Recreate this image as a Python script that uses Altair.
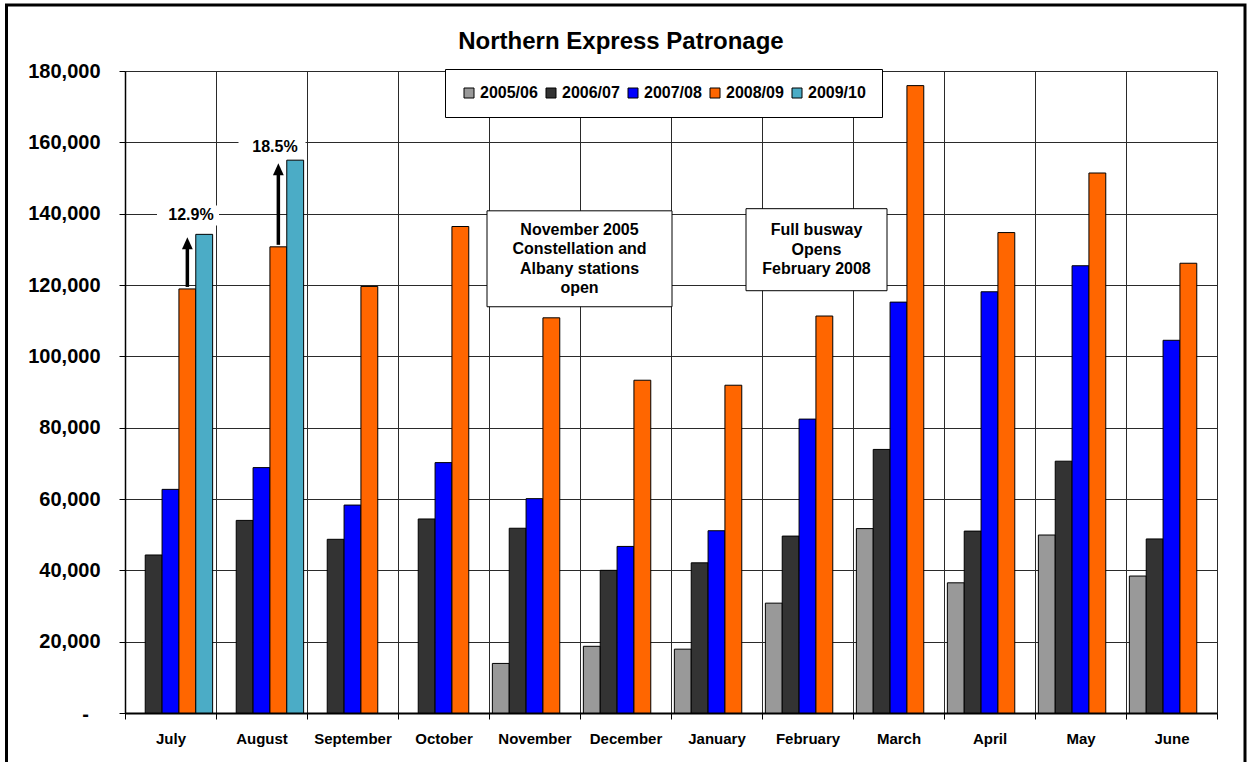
import altair as alt
import pandas as pd

FONT = "Liberation Sans"

months = ["July", "August", "September", "October", "November", "December",
          "January", "February", "March", "April", "May", "June"]
seasons = ["2005/06", "2006/07", "2007/08", "2008/09", "2009/10"]
colors = ["#999999", "#333333", "#0000FF", "#FF6600", "#4BACC6"]

v0506 = [None, None, None, None, 13900, 18700, 17900, 30800, 51700, 36500, 49900, 38400]
v0607 = [44300, 54000, 48700, 54400, 51800, 40000, 42100, 49600, 73900, 51000, 70600, 48800]
v0708 = [62700, 68800, 58300, 70200, 60100, 46700, 51100, 82400, 115200, 118100, 125400, 104500]
v0809 = [118900, 130700, 119600, 136400, 110800, 93300, 91900, 111300, 175900, 134700, 151400, 126100]
v0910 = [134200, 155000, None, None, None, None, None, None, None, None, None, None]

series = [v0506, v0607, v0708, v0809, v0910]
rows = []
for s, vals in zip(seasons, series):
    for m, v in zip(months, vals):
        if v is not None:
            rows.append({"month": m, "season": s, "value": v})
df = pd.DataFrame(rows)

chart_title = "Northern Express Patronage"
zero_label = "-"

# growth arrows (2008/09 -> 2009/10)
arrow_months = ["July", "August"]
arrow_from = [118900, 130700]
arrow_to = [134200, 155000]
arrow_text = ["12.9%", "18.5%"]
arrow_label_y = [139500, 158700]
arrow_label_dx = [20.5, 13.5]
arrow_label_w = [62, 67]

# annotation boxes
note1_lines = ["November 2005", "Constellation and", "Albany stations", "open"]
note2_lines = ["Full busway", "Opens", "February 2008"]

W, H = 1092, 642
LH = 19.5

xscale = alt.Scale(domain=months, paddingInner=0, paddingOuter=0)
xoff_scale = alt.Scale(domain=seasons, paddingInner=0, paddingOuter=0.2)
yscale = alt.Scale(domain=[0, 180000], nice=False, zero=True)

x_axis = alt.Axis(title=None, tickBand="extent", labelAngle=0, labelFont=FONT,
                  labelFontSize=15, labelFontWeight="bold", labelColor="black",
                  labelPadding=12, tickSize=6, tickColor="black", domainColor="black",
                  domainWidth=2, grid=True, gridColor="#2a2a2a", gridWidth=1)
y_axis = alt.Axis(title=None, values=list(range(0, 180001, 20000)),
                  labelExpr="datum.value == 0 ? '' : format(datum.value, ',')",
                  labelFont=FONT, labelFontSize=20, labelFontWeight="bold",
                  labelColor="black", labelPadding=19, tickSize=6, tickColor="black",
                  domainColor="black", domainWidth=1.5, grid=True, gridColor="#2a2a2a",
                  gridWidth=1)

bars = alt.Chart(df).mark_bar(stroke="black", strokeWidth=1).encode(
    x=alt.X("month:N", scale=xscale, sort=months, axis=x_axis),
    xOffset=alt.XOffset("season:N", scale=xoff_scale, sort=seasons),
    y=alt.Y("value:Q", scale=yscale, axis=y_axis),
    color=alt.Color("season:N", scale=alt.Scale(domain=seasons, range=colors),
                    legend=alt.Legend(title=None, orient="none", legendX=320, legendY=-2,
                                      direction="horizontal", fillColor="white",
                                      strokeColor="black", padding=16,
                                      symbolType="square", symbolSize=100,
                                      symbolStrokeColor="black", symbolStrokeWidth=1,
                                      labelFont=FONT, labelFontSize=16,
                                      labelFontWeight="bold", labelColor="black",
                                      columnPadding=5, labelOffset=3)),
)

adf = pd.DataFrame({"month": arrow_months, "season": ["2008/09"] * 2,
                    "from": arrow_from, "to": arrow_to})

shafts = alt.Chart(adf).mark_rule(color="black", strokeWidth=3.5, yOffset=-2, y2Offset=14).encode(
    x=alt.X("month:N", scale=xscale, sort=months),
    xOffset=alt.XOffset("season:N", scale=xoff_scale, sort=seasons),
    y=alt.Y("from:Q", scale=yscale),
    y2="to:Q",
)
heads = alt.Chart(adf).mark_point(shape="M0,-1 L0.9,1 L-0.9,1 Z", size=144, filled=True,
                                  color="black", opacity=1, yOffset=9).encode(
    x=alt.X("month:N", scale=xscale, sort=months),
    xOffset=alt.XOffset("season:N", scale=xoff_scale, sort=seasons),
    y=alt.Y("to:Q", scale=yscale),
)

layers = [bars, shafts, heads]

for m, t, yv, dx, w in zip(arrow_months, arrow_text, arrow_label_y, arrow_label_dx, arrow_label_w):
    ldf = pd.DataFrame({"month": [m], "y": [yv], "t": [t]})
    bg = alt.Chart(ldf).mark_rect(fill="white", width=w, height=20, xOffset=dx - 3).encode(
        x=alt.X("month:N", scale=xscale, sort=months),
        y=alt.Y("y:Q", scale=yscale),
    )
    tx = alt.Chart(ldf).mark_text(font=FONT, fontSize=16, fontWeight="bold", color="black",
                                  dx=dx, align="center", baseline="middle").encode(
        x=alt.X("month:N", scale=xscale, sort=months),
        y=alt.Y("y:Q", scale=yscale),
        text="t:N",
    )
    layers += [bg, tx]

# annotation boxes
notes = [
    dict(m="November", m2="December", top=140800, bot=113900, mid=127350,
         t=note1_lines, xo=-47.5, x2o=46.5, dx=45),
    dict(m="February", m2="February", top=141400, bot=118400, mid=129900,
         t=note2_lines, xo=-61.5, x2o=79.5, dx=9),
]
for n in notes:
    ndf = pd.DataFrame({"m": [n["m"]], "m2": [n["m2"]], "top": [n["top"]],
                        "bot": [n["bot"]], "mid": [n["mid"]], "t": ["\n".join(n["t"])]})
    box = alt.Chart(ndf).mark_rect(fill="white", stroke="black", strokeWidth=1,
                                   xOffset=n["xo"], x2Offset=n["x2o"]).encode(
        x=alt.X("m:N", scale=xscale, sort=months),
        x2="m2:N",
        y=alt.Y("top:Q", scale=yscale),
        y2="bot:Q",
    )
    nlines = len(n["t"])
    txt = alt.Chart(ndf).mark_text(font=FONT, fontSize=16, fontWeight="bold", color="black",
                                   lineBreak="\n", lineHeight=LH, dx=n["dx"],
                                   dy=-(nlines - 1) * LH / 2,
                                   align="center", baseline="middle").encode(
        x=alt.X("m:N", scale=xscale, sort=months),
        y=alt.Y("mid:Q", scale=yscale),
        text="t:N",
    )
    layers += [box, txt]

# zero tick label shown as a dash (accounting style, indented)
zero = alt.Chart(pd.DataFrame({"v": [0], "t": [zero_label]})).mark_text(
    font=FONT, fontSize=20, fontWeight="bold", color="black",
    align="right", baseline="middle", dy=2).encode(
    x=alt.value(-36), y=alt.Y("v:Q", scale=yscale), text="t:N")
layers.append(zero)

title = alt.Chart(pd.DataFrame({"t": [chart_title]})).mark_text(
    font=FONT, fontSize=24, fontWeight="bold", color="black",
    align="center", baseline="middle").encode(
    x=alt.value(496), y=alt.value(-29), text="t:N")
layers.append(title)

frame = alt.Chart(pd.DataFrame({"a": [0]})).mark_rect(
    filled=False, stroke="black", strokeWidth=3).encode(
    x=alt.value(-118.5), x2=alt.value(1120), y=alt.value(-66), y2=alt.value(720))
layers.append(frame)

chart = alt.layer(*layers).properties(
    width=W, height=H,
    autosize=alt.AutoSizeParams(type="none"),
    padding={"left": 125, "top": 71, "right": 35, "bottom": 49},
).configure_view(stroke="#808080", strokeWidth=1).configure(background="white")

chart.save("out.html", embed_options={"renderer": "svg", "actions": False})
